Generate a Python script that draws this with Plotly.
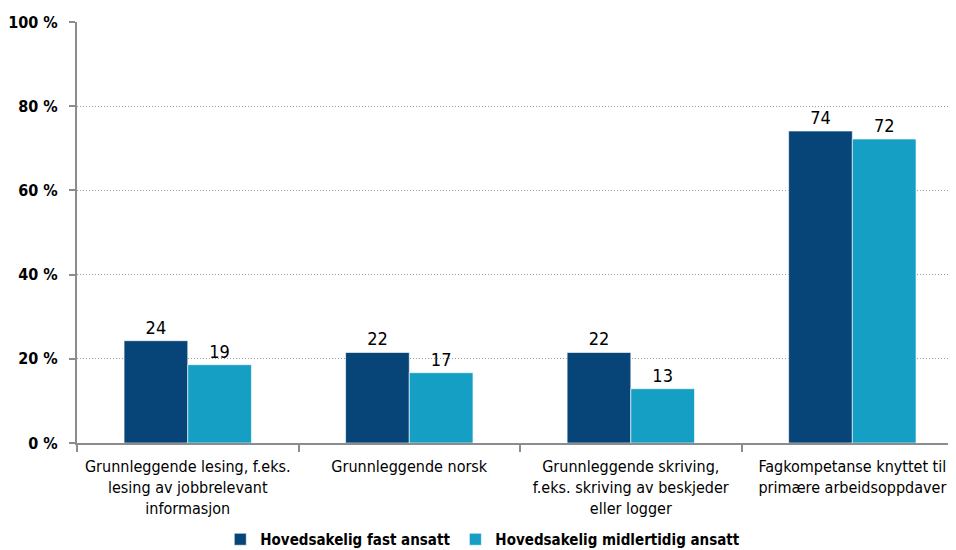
import plotly.graph_objects as go

# data
kategorier = [
    "Grunnleggende lesing, f.eks.<br>lesing av jobbrelevant<br>informasjon",
    "Grunnleggende norsk",
    "Grunnleggende skriving,<br>f.eks. skriving av beskjeder<br>eller logger",
    "Fagkompetanse knyttet til<br>primære arbeidsoppdaver",
]
fast_ansatt = [24.3, 21.5, 21.5, 74.1]
midlertidig_ansatt = [18.6, 16.7, 12.9, 72.2]
y_ticks = [0, 20, 40, 60, 80, 100]

FONT = "DejaVu Sans Condensed, sans-serif"
DARK = "#074477"
LIGHT = "#169FC5"

fig = go.Figure()
for navn, verdier, farge in [
    ("Hovedsakelig fast ansatt", fast_ansatt, DARK),
    ("Hovedsakelig midlertidig ansatt", midlertidig_ansatt, LIGHT),
]:
    fig.add_trace(go.Bar(
        name=navn,
        x=kategorier,
        y=verdier,
        marker=dict(color=farge, line=dict(color="rgba(255,255,255,0.6)", width=1)),
        texttemplate="%{y:.0f}",
        textposition="outside",
        textfont=dict(size=18, color="black", family=FONT),
        cliponaxis=False,
    ))

# siden ligger 8 px inn i vinduet, så margene er justert for det
fig.update_layout(
    width=956,
    height=550,
    barmode="group",
    bargap=0.425,
    bargroupgap=0,
    paper_bgcolor="white",
    plot_bgcolor="white",
    font=dict(family=FONT, size=16, color="black"),
    margin=dict(l=69, r=8, t=14, b=115, autoexpand=False),
    xaxis=dict(
        range=[-0.5, 3.468],
        showline=True,
        linecolor="#8c8c8c",
        linewidth=2,
        ticks="outside",
        tickson="boundaries",
        ticklen=7,
        tickcolor="#8c8c8c",
        tickwidth=2,
        tickangle=0,
        ticklabelstandoff=8,
        automargin=False,
        tickfont=dict(size=16, color="black", family=FONT),
    ),
    yaxis=dict(
        range=[0, 100],
        tickvals=y_ticks,
        ticktext=[f"{v} %" for v in y_ticks],
        showline=True,
        linecolor="#8c8c8c",
        linewidth=2,
        ticks="outside",
        ticklen=6,
        tickcolor="#8c8c8c",
        tickwidth=2,
        ticklabelstandoff=8,
        showgrid=True,
        gridcolor="#9a9a9a",
        griddash="1px,2px",
        gridwidth=1,
        zeroline=False,
        automargin=False,
        tickfont=dict(size=16, color="black", family=FONT, weight="bold"),
    ),
    legend=dict(
        orientation="h",
        x=0.163,
        xanchor="left",
        y=-0.19,
        yanchor="top",
        font=dict(size=15, color="black", family=FONT, weight="bold"),
        itemwidth=30,
        traceorder="normal",
    ),
)

fig.write_html("out.html")
